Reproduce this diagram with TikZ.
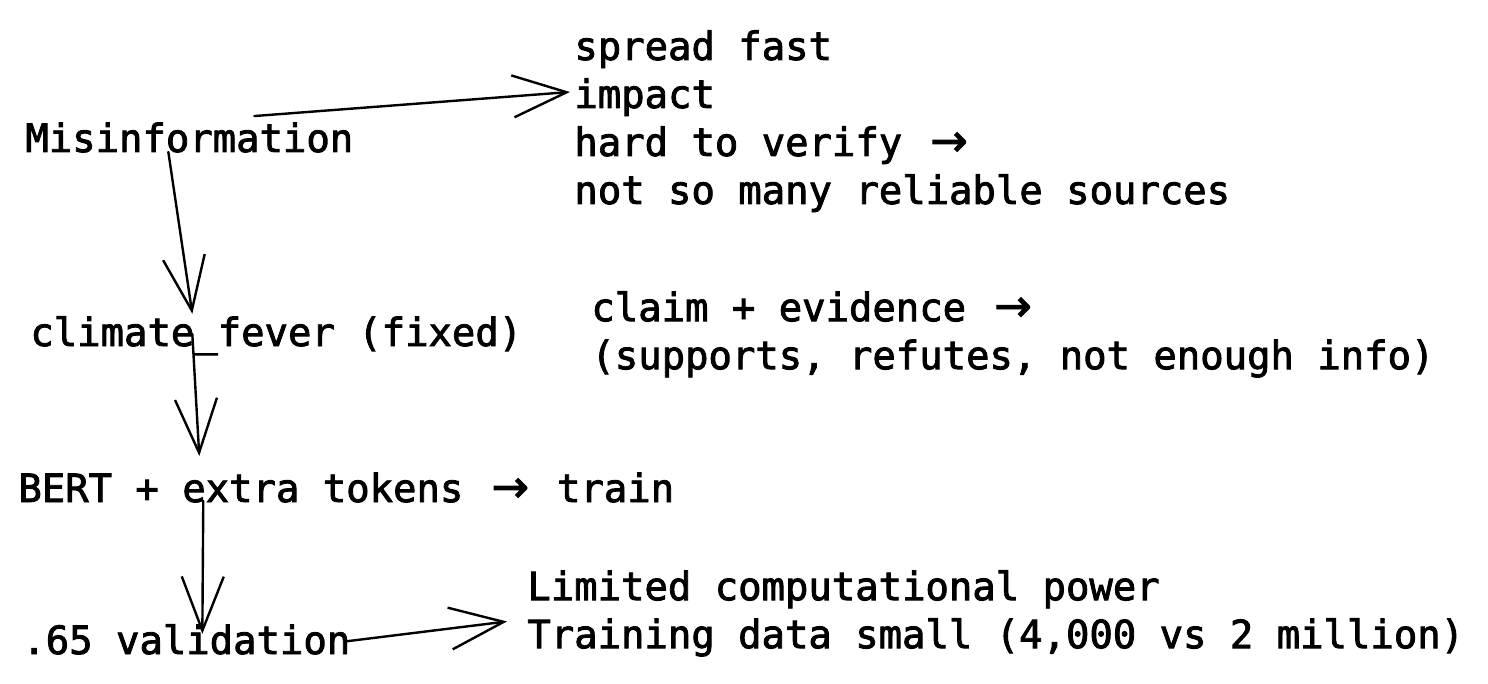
\documentclass[tikz,border=0pt]{standalone}
\usepackage{fontspec}
\newfontfamily\sketchfont[FakeBold=2.2]{DejaVu Sans Mono}
\newfontfamily\arrowfont[FakeBold=2.2]{DejaVu Sans}
\usetikzlibrary{arrows.meta}

% the arrow sign takes two cells, like the ligature in the sketch
\newcommand{\lig}{\makebox[1.204em][c]{\arrowfont\scalebox{1.15}{→}}}

\tikzset{
    txt/.style={font=\sketchfont\fontsize{19.45pt}{24pt}\selectfont, inner sep=0pt},
    lines/.style={txt, align=left},
    sketch/.style={-{Straight Barb[length=27pt,width=21pt]}, line width=1.2pt, line cap=round}
}

\begin{document}
\begin{tikzpicture}[x=0.5pt, y=-0.5pt]
    \useasboundingbox (0,0) rectangle (1488,684);

    % the texts on the left (the chain)
    \node[txt, anchor=base west] (mis) at (25,152) {Misinformation};
    \node[txt, anchor=base west] (clim) at (30,346) {climate\_fever (fixed)};
    \node[txt, anchor=base west] (bert) at (18,502) {BERT + extra tokens \lig{} train};
    \node[txt, anchor=base west] (val) at (22,654) {.65 validation};

    % the notes on the right
    \node[lines, anchor=north west] (facts) at (574,30)
        {spread fast\\impact\\hard to verify \lig\\not so many reliable sources};
    \node[lines, anchor=north west] (claim) at (591,291)
        {claim + evidence \lig\\(supports, refutes, not enough info)};
    \node[lines, anchor=north west] (limits) at (527,570)
        {Limited computational power\\Training data small (4,000 vs 2 million)};

    % draw the arrows
    \draw[sketch] ([xshift=32.5pt,yshift=3pt]mis.north) -- ([xshift=-2pt,yshift=-31pt]facts.north west);
    \draw[sketch] ([xshift=-10.5pt,yshift=0.5pt]mis.south) -- ([xshift=-42pt,yshift=1pt]clim.north);
    \draw[sketch] ([xshift=-42pt,yshift=-9pt]clim.north) -- ([xshift=-73.5pt,yshift=8pt]bert.north);
    \draw[sketch] ([xshift=-71.5pt,yshift=1pt]bert.south) -- ([xshift=8pt,yshift=-5pt]val.north);
    \draw[sketch] ([xshift=-2.5pt,yshift=-1pt]val.east) -- ([xshift=-10pt,yshift=-4pt]limits.west);

\end{tikzpicture}
\end{document}
